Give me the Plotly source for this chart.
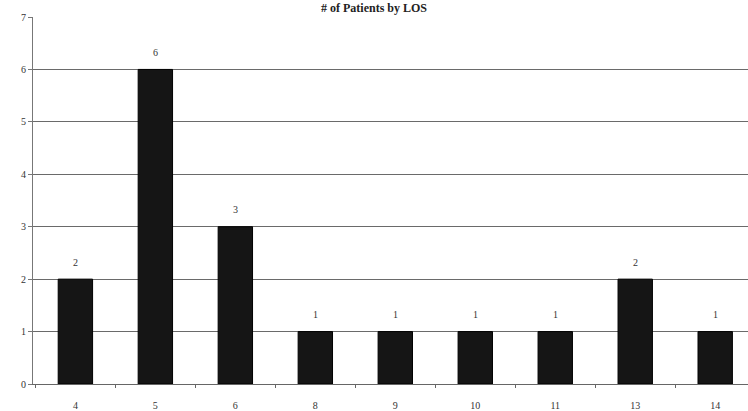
import plotly.graph_objects as go

los = ["4", "5", "6", "8", "9", "10", "11", "13", "14"]
patients = [2, 6, 3, 1, 1, 1, 1, 2, 1]
y_ticks = [0, 1, 2, 3, 4, 5, 6, 7]
title = "# of Patients by LOS"

fig = go.Figure()
fig.add_trace(go.Bar(
    x=los, y=patients,
    marker=dict(color="#151515", line=dict(color="#000000", width=1)),
    width=0.43,
))
for i, v in enumerate(patients):
    fig.add_annotation(x=i, y=v, text=str(v), showarrow=False, yshift=17,
                       font=dict(family="Liberation Serif", size=10, color="#333333"))

fig.update_layout(
    width=748, height=411,
    margin=dict(l=33, r=0, t=17, b=24),
    paper_bgcolor="white", plot_bgcolor="white",
    showlegend=False,
    title=dict(text="<b>" + title + "</b>", x=0.5, xanchor="center",
               yref="container", y=0.982, yanchor="middle",
               font=dict(family="Liberation Serif", size=12, color="#222222")),
    font=dict(family="Liberation Serif", size=10, color="#333333"),
)
fig.update_xaxes(
    type="category", range=[-0.53, 8.41],
    showgrid=False, showline=True, linecolor="#666666", linewidth=1,
    ticks="outside", tickson="boundaries", ticklen=3, tickcolor="#666666",
    ticklabelstandoff=12, tickfont=dict(size=10, color="#333333"),
)
fig.update_yaxes(
    range=[0, 7], tickvals=y_ticks,
    showgrid=True, gridcolor="#6a6a6a", gridwidth=1,
    showline=True, linecolor="#777777", linewidth=1,
    ticks="outside", ticklen=4, tickcolor="#777777",
    tickfont=dict(size=10, color="#333333"), zeroline=False,
)
fig.write_html("out.html", config={"displayModeBar": False},
               post_script="document.body.style.margin='0px';document.body.style.overflow='hidden';")
